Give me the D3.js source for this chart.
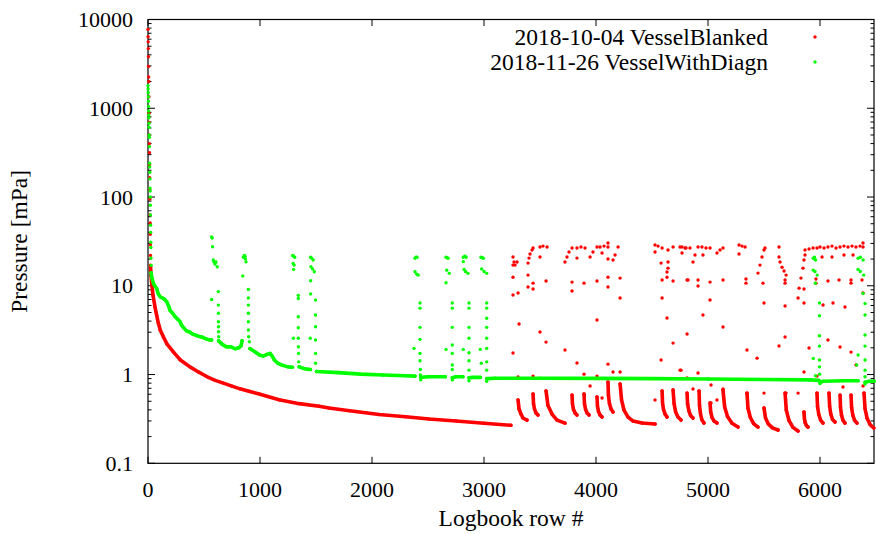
<!DOCTYPE html>
<html>
<head>
<meta charset="utf-8">
<script src="https://cdn.jsdelivr.net/npm/d3@7"></script>
<style>
  body { margin: 0; background: #fff; }
  text { font-family: "Liberation Serif", "DejaVu Serif", serif; font-size: 22px; fill: #000; }
  text.title { font-size: 23.5px; }
</style>
</head>
<body>
<svg id="chart" width="876" height="534"></svg>
<script>
// ---- data (row #, pressure in mPa) ----
const seriesNames = ["2018-10-04 VesselBlanked", "2018-11-26 VesselWithDiagn"];
const seriesColors = ["#ff0000", "#00ff00"];
const xTicks = [0, 1000, 2000, 3000, 4000, 5000, 6000];
const yTicks = [0.1, 1, 10, 100, 1000, 10000];
const yTickLabels = ["0.1", "1", "10", "100", "1000", "10000"];

// red: initial pump-down spike, then the long decay
const redSpike = [[0,7750],[1,6400],[2,5600],[3,4700],[4,3800],[5,2950],[6,2250],[7,2000],[8,1350],[9,880],[10,690],[11,500],[12,400],[13,316],[14,233],[15,165],[16,120],[17,95],[18,63],[19,51],[20,38],[21,29],[22,22]];
const redMain = [[22,17],[27,13],[33,10.6],[45,7.8],[62,5.8],[78,4.6],[92,3.8],[110,3.15],[137,2.67],[170,2.2],[226,1.8],[286,1.47],[375,1.22],[450,1.07],[524,0.95],[600,0.86],[673,0.8],[750,0.74],[821,0.69],[900,0.65],[1000,0.6],[1170,0.52],[1350,0.47],[1527,0.44],[1616,0.42],[1800,0.39],[2063,0.355],[2300,0.335],[2509,0.315],[2750,0.3],[3000,0.283],[3240,0.268]];

// red: short recovery traces after each venting
const redTraces = [
  [[3304,0.516],[3313,0.409],[3330,0.359],[3348,0.324],[3384,0.307]],
  [[3438,0.603],[3442,0.47],[3451,0.409],[3464,0.369],[3482,0.35]],
  [[3554,0.652],[3571,0.448],[3607,0.359],[3652,0.307],[3723,0.284]],
  [[3786,0.587],[3790,0.465],[3799,0.404],[3813,0.369],[3830,0.35]],
  [[3893,0.603],[3897,0.47],[3906,0.409],[3920,0.369],[3938,0.35]],
  [[4009,0.558],[4013,0.442],[4022,0.384],[4036,0.35],[4054,0.332]],
  [[4107,0.823],[4111,0.58],[4120,0.473],[4134,0.409],[4152,0.378]],
  [[4215,0.782],[4228,0.516],[4250,0.398],[4286,0.332],[4331,0.299],[4411,0.284],[4527,0.277]],
  [[4590,0.652],[4594,0.482],[4603,0.402],[4616,0.36],[4634,0.332]],
  [[4688,0.669],[4697,0.472],[4710,0.382],[4732,0.332],[4759,0.307]],
  [[4813,0.618],[4818,0.462],[4830,0.388],[4844,0.346],[4866,0.324]],
  [[4920,0.652],[4924,0.448],[4933,0.359],[4946,0.307],[4964,0.284]],
  [[5018,0.478],[5024,0.378],[5036,0.328],[5054,0.299],[5080,0.284]],
  [[5134,0.669],[5148,0.434],[5174,0.336],[5214,0.282],[5268,0.256]],
  [[5348,0.618],[5357,0.417],[5378,0.328],[5407,0.28],[5446,0.256]],
  [[5500,0.42],[5513,0.325],[5538,0.278],[5575,0.251],[5625,0.237]],
  [[5688,0.618],[5699,0.397],[5723,0.304],[5758,0.254],[5804,0.231]],
  [[5857,0.378],[5861,0.317],[5868,0.286],[5879,0.266],[5893,0.256]],
  [[5973,0.618],[5978,0.436],[5989,0.355],[6005,0.307],[6027,0.284]],
  [[6080,0.618],[6086,0.44],[6096,0.36],[6112,0.311],[6134,0.292]],
  [[6179,0.587],[6183,0.424],[6192,0.348],[6205,0.305],[6223,0.284]],
  [[6277,0.587],[6282,0.424],[6293,0.348],[6309,0.305],[6330,0.284]],
  [[6393,0.618],[6402,0.412],[6420,0.322],[6447,0.273],[6480,0.25]]
];

// red: scattered readings while vented
const redDots = [
  [3259,21.1],[3268,18.5],[3277,17.1],[3295,18.5],[3259,17.1],
  [3393,18.0],[3402,20.5],[3411,22.8],[3429,25.3],[3438,26.6],
  [3500,27.3],[3527,28],[3563,27.3],[3500,21.1],
  [3723,18.5],[3741,21.1],[3759,24],[3786,26.6],[3830,26.6],[3866,27.3],[3902,26.6],[3830,20.5],
  [3947,21.1],[3973,24],[4009,27.3],[4036,27.3],[4072,28],[4107,27.3],[4054,23.4],[4107,30.3],[4107,20.0],
  [4152,19.5],[4170,22.2],[4197,27.3],
  [4527,28.8],[4554,28],[4590,26.6],[4527,24],[4643,25.3],[4688,27.3],
  [4768,27.3],[4804,26.6],[4839,26.6],[4768,23.4],[4581,18.0],[4643,18.5],[4643,15.8],[4634,14.3],
  [3259,12.5],[3393,13.2],[3438,10.7],[3393,9.67],[3438,9.19],[3554,11.3],[3786,11.0],[3786,8.72],
  [3893,10.7],[4009,11.3],[4107,12.5],[4107,9.67],[4215,12.2],[4215,7.28],[3259,7.87],[3304,8.28],
  [4590,11.6],[4634,12.5],[4688,11.3],[4590,7.28],[4821,11.6],
  [3313,3.71],[3500,3.01],[3554,2.32],[4009,4.11],[3723,1.89],[3259,1.75],[3830,1.35],[4107,1.31],
  [4152,1.07],[4215,1.07],[4634,4.33],[4688,2.26],[4581,1.46],[4759,1.12],[4813,2.86],
  [3304,0.94],[3438,0.96],[3893,1.01],[4009,0.96],[3947,0.742],[4054,0.544],[4527,0.516],
  [4750,27.3],[4795,26.6],[4866,18.5],[4884,22.2],[4911,27.3],[4946,27.3],[4982,26.6],[5018,26.6],[4955,22.2],
  [5080,23.4],[5107,25.3],[5134,26.6],[5277,28.8],[5304,28],[5331,27.3],[5277,22.8],
  [5446,13.9],[5464,17.1],[5482,21.1],[5500,25.3],[5509,26.6],
  [5634,27.3],[5634,21.1],[5643,18.5],[5661,16.2],[5679,14.7],[5697,13.2],
  [5804,7.28],[5813,9.4],[5830,12.2],[5848,15.8],[5857,19.5],[5866,22.2],
  [5866,25.3],[5902,26],[5938,26.6],[5973,26.6],[6000,27.3],[6036,26.6],[6071,27.3],[6107,28],[6143,26.6],
  [6179,27.3],[6214,28],[6250,27.3],[6286,28],[6321,27.3],[6357,28],[6384,27.3],
  [6018,21.1],[6107,21.1],[6214,22.2],[6295,22.2],[6384,30.3],
  [4813,11.6],[4911,11.6],[4911,9.93],[5018,11.0],[5134,11.6],[5339,11.9],[5339,10.7],[5491,10.7],
  [5688,11.6],[5688,10.7],[5964,11.9],[5964,10.7],[6071,11.3],[6170,11.6],[6277,11.6],[6277,10.7],[6375,11.6],[6384,8.28],
  [5018,6.91],[5500,6.39],[5688,5.92],[5857,9.19],[5857,6.39],[6027,6.07],[6116,6.39],[6223,5.76],
  [4955,4.68],[5134,3.43],[5348,1.89],[5438,1.53],[5634,2.10],[5688,2.65],[5902,1.99],[6071,2.45],
  [6179,2.04],[6277,1.79],[6321,1.28],
  [4750,1.12],[4813,0.913],[4911,1.04],[5857,1.07],[5973,0.96],
  [4866,0.687],[5027,0.762],[5134,0.687],[5500,0.618],[5697,0.618],[5804,0.618],[5857,0.369],
  [5080,0.516],[5348,0.603],[5027,0.478],[6205,0.724],[6384,0.742]
];

// green: dense stretches of the baseline pressure
const greenRuns = [
  [[28,14],[33,12.5],[40,11.6],[50,10.5],[65,9.8],[78,9.3],[90,8.2],[100,7.8],[115,7.4],[137,7.2],[150,7.0],[167,6.6],[185,5.9],[196,5.3],[220,4.9],[241,4.5],[265,4.2],[286,3.95],[300,3.6],[315,3.4],[345,3.1],[375,3.0],[400,2.85],[420,2.8],[450,2.7],[479,2.65],[520,2.52],[554,2.45],[568,2.45]],
  [[630,2.4],[660,2.2],[700,2.05],[740,2.05],[780,1.95],[810,2.0],[830,2.1],[840,2.4]],
  [[911,1.95],[940,1.85],[970,1.75],[1000,1.65],[1030,1.62],[1060,1.68],[1090,1.73],[1110,1.6],[1130,1.45],[1160,1.34],[1200,1.27],[1250,1.22],[1290,1.21]],
  [[1350,1.22],[1390,1.17],[1420,1.15],[1450,1.14]],
  [[1505,1.08],[1700,1.05],[1900,1.01],[2100,0.99],[2300,0.97],[2384,0.96]],
  [[2435,0.93],[2500,0.945],[2655,0.945]],
  [[2717,0.92],[2750,0.945],[2812,0.945]],
  [[2866,0.92],[2900,0.93],[2968,0.93]],
  [[3024,0.9],[3100,0.91],[3500,0.91],[4000,0.905],[4500,0.9],[5000,0.89],[5500,0.88],[5900,0.87],[5990,0.86]],
  [[6000,0.82],[6030,0.84],[6200,0.85],[6340,0.85]],
  [[6402,0.82],[6440,0.84],[6482,0.84]]
];

// green: pump-down spike and the excursions while vented
const greenDots = [
  [0,1800],[1,1650],[2,1500],[3,1350],[4,1200],[5,1050],[6,930],[7,840],[8,780],[9,680],[10,610],[11,500],[12,470],[13,370],
  [14,240],[15,218],[16,190],[17,160],[18,126],[19,117],[20,100],[21,81],[22,63],[23,48],[24,40],[25,31],[26,27],[27,20.5],[28,17],
  [568,35.4],[573,34.5],[577,27.5],[583,19.5],[589,18.5],[598,17.6],[607,18.5],[619,16.4],[568,7.0],[628,8.6],
  [628,6.06],[629,4.9],[629,3.94],[630,3.46],[630,3.04],[631,2.67],
  [846,12.9],[852,21],[860,22],[866,21.5],[870,20],[875,18.6],[896,9.1],[896,7.3],[896,6.06],[896,4.9],[896,3.94],
  [897,3.17],[898,2.67],[905,2.34],[911,1.97],
  [1291,22],[1300,21.5],[1310,21],[1296,17.8],[1305,17.1],[1300,15.3],[1298,2.56],[1342,7.8],[1342,7.2],[1342,4.48],
  [1342,3.37],[1342,2.56],[1343,2.06],[1344,1.73],[1345,1.39],[1350,1.22],
  [1452,21],[1460,20.5],[1475,19.5],[1455,16.4],[1470,15.5],[1485,14.4],[1452,11.4],[1452,8.1],[1449,2.56],
  [1496,6.9],[1496,4.68],[1496,3.46],[1496,2.45],[1496,1.73],[1496,1.34],[1505,1.08],
  [2375,1.97],[2384,20.4],[2393,21],[2402,21],[2384,14.4],[2400,13.5],[2413,13.2],[2429,6.4],[2429,5.6],[2429,3.4],
  [2429,2.49],[2429,1.73],[2429,1.43],[2432,1.14],[2432,0.99],[2435,0.87],
  [2661,21],[2670,20.7],[2679,20.4],[2667,15],[2690,13.8],[2661,10.8],[2661,1.92],[2717,6.4],[2717,5.6],[2717,3.4],
  [2717,2.15],[2717,1.73],[2717,1.28],[2717,1.14],[2717,0.87],
  [2815,21],[2830,21.5],[2840,21],[2822,15.3],[2835,14.5],[2857,13.8],[2815,18.7],[2815,1.92],[2866,6.4],[2866,5.6],
  [2866,3.4],[2866,2.56],[2866,1.76],[2866,1.43],[2866,1.12],[2866,0.85],
  [2973,21],[2985,20.7],[2994,20.4],[2979,15.5],[3000,14.5],[3024,13.8],[2967,1.92],[2976,1.34],[3024,6.4],[3024,5.6],
  [3024,4.3],[3024,3.4],[3024,2.56],[3024,1.97],[3024,1.39],[3024,1.12],[3024,0.84],
  [5940,20.4],[5950,21],[5960,19.5],[5940,15],[5955,14.5],[5975,13.2],[5958,10.7],[5940,1.52],[5960,0.97],
  [5995,6.4],[5995,4.6],[5995,2.74],[5995,2.09],[5995,1.46],[5995,1.22],[5997,1.01],[6000,0.79],
  [6340,20.4],[6360,21],[6385,19.5],[6340,15.3],[6360,14.5],[6390,13.2],[6384,8.2],[6340,1.66],[6327,1.28],
  [6402,6.3],[6402,4.68],[6402,2.79],[6402,2.09],[6402,1.46],[6402,1.12],[6402,0.945],[6402,0.78]
];

// ---- layout ----
const W = 876, H = 534;
const plotL = 148, plotR = 874, plotT = 19.5, plotB = 463.3;
const dotR = 1.7;

const svg = d3.select("#chart");

const x = d3.scaleLinear().domain([0, 6482]).range([plotL, plotR]);
const y = d3.scaleLog().domain([0.1, 10000]).range([plotB, plotT]);

// frame
svg.append("rect")
  .attr("x", plotL).attr("y", plotT)
  .attr("width", plotR - plotL).attr("height", plotB - plotT)
  .attr("fill", "none").attr("stroke", "#000").attr("stroke-width", 1.2);

// ticks (gnuplot style: inward, mirrored)
const minorY = [];
yTicks.slice(0, -1).forEach(t => { for (let k = 2; k <= 9; k++) minorY.push(t * k); });

const tickG = svg.append("g").attr("stroke", "#000").attr("stroke-width", 1);
tickG.selectAll(".ymaj").data(yTicks).enter().append("path")
  .attr("d", d => `M${plotL},${y(d)}h7M${plotR},${y(d)}h-7`);
tickG.selectAll(".ymin").data(minorY).enter().append("path")
  .attr("d", d => `M${plotL},${y(d)}h3.5M${plotR},${y(d)}h-3.5`);
tickG.selectAll(".xmaj").data(xTicks).enter().append("path")
  .attr("d", d => `M${x(d)},${plotB}v-6.5M${x(d)},${plotT}v6.5`);

// tick labels
svg.selectAll(".ylab").data(yTicks).enter().append("text")
  .attr("x", plotL - 15).attr("y", d => y(d)).attr("dy", "0.35em")
  .attr("text-anchor", "end")
  .text((d, i) => yTickLabels[i]);

svg.selectAll(".xlab").data(xTicks).enter().append("text")
  .attr("x", d => x(d)).attr("y", 497)
  .attr("text-anchor", "middle")
  .text(d => d);

// axis titles
svg.append("text").attr("class", "title")
  .attr("x", (plotL + plotR) / 2).attr("y", 526)
  .attr("text-anchor", "middle")
  .text("Logbook row #");

svg.append("text").attr("class", "title")
  .attr("transform", `translate(27,${(plotT + plotB) / 2}) rotate(-90)`)
  .attr("text-anchor", "middle")
  .text("Pressure [mPa]");

// ---- data marks ----
const line = d3.line().x(d => x(d[0])).y(d => y(d[1]));

function drawRuns(runs, color) {
  const g = svg.append("g");
  g.selectAll("path").data(runs).enter().append("path")
    .attr("d", line)
    .attr("fill", "none")
    .attr("stroke", color)
    .attr("stroke-width", 3.6)
    .attr("stroke-linecap", "round")
    .attr("stroke-linejoin", "round");
  g.selectAll("circle").data(runs.flat()).enter().append("circle")
    .attr("cx", d => x(d[0])).attr("cy", d => y(d[1]))
    .attr("r", dotR).attr("fill", color);
}

function drawDots(points, color) {
  svg.append("g").selectAll("circle").data(points).enter().append("circle")
    .attr("cx", d => x(d[0])).attr("cy", d => y(d[1]))
    .attr("r", dotR).attr("fill", color);
}

drawDots(redSpike, seriesColors[0]);
drawRuns([redMain, ...redTraces], seriesColors[0]);
drawDots(redDots, seriesColors[0]);

drawRuns(greenRuns, seriesColors[1]);
drawDots(greenDots, seriesColors[1]);

// ---- legend ----
const legend = svg.append("g");
seriesNames.forEach((name, i) => {
  const ly = 37 + i * 25;
  legend.append("text").attr("class", "title")
    .attr("x", 768).attr("y", ly).attr("dy", "0.35em")
    .attr("text-anchor", "end")
    .text(name);
  legend.append("circle")
    .attr("cx", 815).attr("cy", ly)
    .attr("r", dotR).attr("fill", seriesColors[i]);
});
</script>
</body>
</html>
